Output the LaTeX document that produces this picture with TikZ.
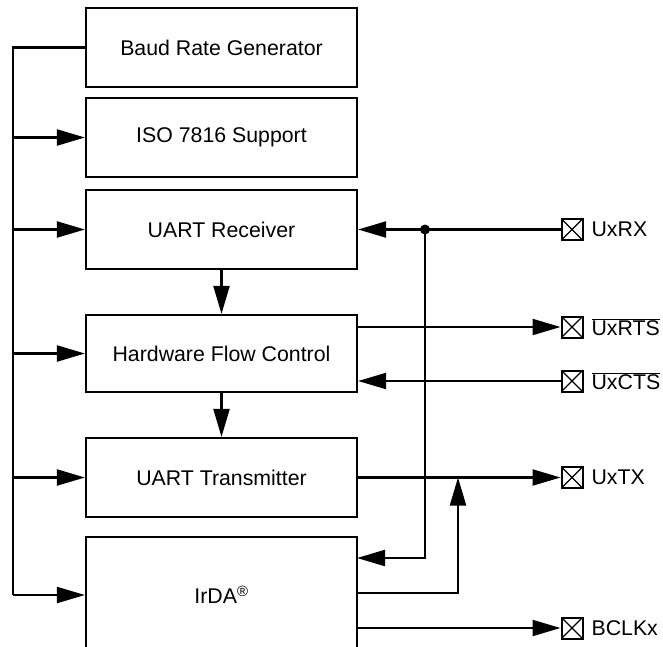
\documentclass[tikz,border=0pt]{standalone}
\usepackage{fontspec}
\setmainfont{Liberation Sans}
\usepackage{tikz}
\usetikzlibrary{arrows.meta,positioning,calc}

\begin{document}
\begin{tikzpicture}[
  x=1pt,y=-1pt,>={Triangle[length=28pt,width=16pt]},
  line width=2.2pt,
  flow/.style={->},
  blk/.style={draw,minimum width=271pt,minimum height=79pt,inner sep=0pt},
  pin/.style={draw,minimum size=21pt,inner sep=0pt,line width=2pt,
    path picture={\draw[line width=1.2pt]
      (path picture bounding box.north west) -- (path picture bounding box.south east)
      (path picture bounding box.north east) -- (path picture bounding box.south west);},
    label={[inner sep=7pt]east:#1}},
  every node/.style={font=\fontsize{21.3}{25}\selectfont}
]
  \useasboundingbox (0,0) rectangle (663,646);
  \clip (0,0) rectangle (663,646);
  % blocks
  \node[blk] (baud) at (221.5,47.5) {Baud Rate Generator};
  \node[blk] (iso) at (221.5,137.5) {ISO 7816 Support};
  \node[blk] (rx) at (221.5,229.5) {UART Receiver};
  \node[blk,minimum height=77pt] (hfc) at (221.5,353.5) {Hardware Flow Control};
  \node[blk] (tx) at (221.5,477.5) {UART Transmitter};
  \node[blk,minimum height=116pt] (irda) at (221.5,595) {IrDA\textsuperscript{\textregistered}};
  % pins
  \node[pin=UxRX] (uxrx) at (572,229.5) {};
  \node[pin={$\overline{\mbox{UxRTS}}$}] (uxrts) at (572,327) {};
  \node[pin={$\overline{\mbox{UxCTS}}$}] (uxcts) at (572,381) {};
  \node[pin=UxTX] (uxtx) at (572,477.5) {};
  \node[pin=BCLKx] (bclk) at (572,628) {};
  % junctions
  \coordinate (bustop) at (13,47.5);
  \coordinate (busbot) at (13,595);
  \coordinate (rxjoin) at (425,229.5);
  \coordinate (irdarx) at (357,558);
  \coordinate (irdatx) at (357,593);
  \coordinate (txjoin) at (458,477.5);
  % clock bus
  \draw (baud.west) -- (bustop) -- (busbot);
  \foreach \blkname in {iso,rx,hfc,tx,irda}
    \draw[flow] (bustop |- \blkname.west) -- (\blkname.west);
  % data path
  \draw[flow] (rx) -- (hfc);
  \draw[flow] (hfc) -- (tx);
  \draw[flow] (uxrx.west) -- (rx.east);
  \fill (rxjoin) circle (5pt);
  \draw[flow] (rxjoin) |- (irdarx);
  \draw[flow] (hfc.east |- uxrts) -- (uxrts.west);
  \draw[flow] (uxcts.west) -- (hfc.east |- uxcts);
  \draw[flow] (tx.east) -- (uxtx.west);
  \draw[flow] (irdatx) -| (txjoin);
  \draw[flow] (irda.east |- bclk) -- (bclk.west);
\end{tikzpicture}
\end{document}
